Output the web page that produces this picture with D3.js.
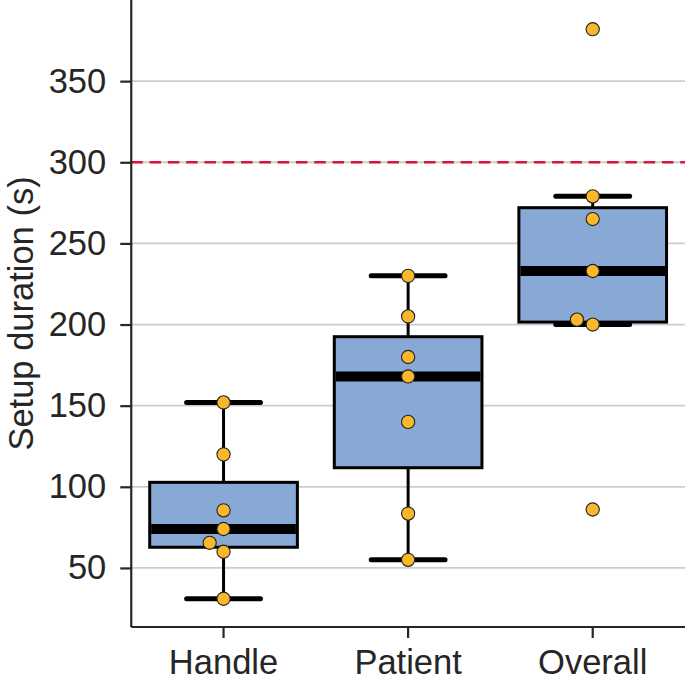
<!DOCTYPE html>
<html>
<head>
<meta charset="utf-8">
<script src="https://cdn.jsdelivr.net/npm/d3@7/dist/d3.min.js"></script>
<style>
  html, body { margin: 0; padding: 0; background: #fff; }
  svg { display: block; }
  text { font-family: "Liberation Sans", Arial, sans-serif; fill: #262626; }
</style>
</head>
<body>
<svg id="chart" width="685" height="677"></svg>
<script>
// ---- data ----
const categories = ["Handle", "Patient", "Overall"];
const handleValues = [152, 120, 85.5, 74, 65.5, 60, 31];
const patientValues = [230, 205, 180, 168, 140, 83.5, 55];
const overallValues = [382, 279, 265, 233, 203, 200, 86];
const seriesValues = [handleValues, patientValues, overallValues];
const yTicks = [50, 100, 150, 200, 250, 300, 350];
const thresholdValue = 300;
const yLabel = "Setup duration (s)";
const yDomain = [13.6, 400];

(function () {
// ---- layout ----
const plotLeft = 131.25, plotRight = 685, plotTop = 0, plotBottom = 627;
const svg = d3.select("#chart");

const x = d3.scaleBand().domain(categories).range([plotLeft, plotRight])
  .paddingInner(0.2).paddingOuter(0.1);
const y = d3.scaleLinear().domain(yDomain).range([plotBottom, plotTop]);

// grid
svg.append("g").selectAll("line").data(yTicks).join("line")
  .attr("x1", plotLeft).attr("x2", plotRight)
  .attr("y1", d => y(d)).attr("y2", d => y(d))
  .attr("stroke", "#cccccc").attr("stroke-width", 1.8);

// threshold line
svg.append("line")
  .attr("x1", plotLeft).attr("x2", plotRight)
  .attr("y1", y(thresholdValue)).attr("y2", y(thresholdValue))
  .attr("stroke", "crimson").attr("stroke-width", 2.6)
  .attr("stroke-dasharray", "11.5,6.8");

// box stats
function stats(vals) {
  const s = vals.slice().sort(d3.ascending);
  const q1 = d3.quantileSorted(s, 0.25), med = d3.quantileSorted(s, 0.5), q3 = d3.quantileSorted(s, 0.75);
  const iqr = q3 - q1;
  const lo = d3.min(s.filter(v => v >= q1 - 1.5 * iqr));
  const hi = d3.max(s.filter(v => v <= q3 + 1.5 * iqr));
  return { q1, med, q3, lo, hi };
}

const bw = x.bandwidth();
categories.forEach((cat, i) => {
  const st = stats(seriesValues[i]);
  const cx = x(cat) + bw / 2;
  const g = svg.append("g");
  // whiskers
  g.append("line").attr("x1", cx).attr("x2", cx).attr("y1", y(st.q3)).attr("y2", y(st.hi))
    .attr("stroke", "#000").attr("stroke-width", 3);
  g.append("line").attr("x1", cx).attr("x2", cx).attr("y1", y(st.q1)).attr("y2", y(st.lo))
    .attr("stroke", "#000").attr("stroke-width", 3);
  // box
  g.append("rect").attr("x", x(cat)).attr("width", bw)
    .attr("y", y(st.q3)).attr("height", y(st.q1) - y(st.q3))
    .attr("fill", "#88a9d5").attr("stroke", "#000").attr("stroke-width", 3);
  // caps
  [st.lo, st.hi].forEach(v => {
    g.append("line").attr("x1", cx - bw / 4).attr("x2", cx + bw / 4)
      .attr("y1", y(v)).attr("y2", y(v))
      .attr("stroke", "#000").attr("stroke-width", 5).attr("stroke-linecap", "round");
  });
  // median
  g.append("line").attr("x1", x(cat) + 1.5).attr("x2", x(cat) + bw - 1.5)
    .attr("y1", y(st.med)).attr("y2", y(st.med))
    .attr("stroke", "#000").attr("stroke-width", 10);
});

// swarm points
const dColl = 16.5;
categories.forEach((cat, i) => {
  const cx = x(cat) + bw / 2;
  const vals = seriesValues[i].slice().sort(d3.ascending);
  const placed = [];
  vals.forEach(v => {
    const py = y(v);
    const cands = [0];
    placed.forEach(p => {
      const dy = Math.abs(p.y - py);
      if (dy < dColl) {
        const dx = Math.sqrt(dColl * dColl - dy * dy);
        cands.push(p.o - dx, p.o + dx);
      }
    });
    cands.sort((a, b) => (Math.abs(a) - Math.abs(b)) || (a - b));
    const o = cands.find(c => placed.every(p => Math.hypot(p.o - c, p.y - py) >= dColl - 1e-6));
    placed.push({ o, y: py, v });
  });
  svg.append("g").selectAll("circle").data(placed).join("circle")
    .attr("cx", d => cx + d.o).attr("cy", d => d.y).attr("r", 6.6)
    .attr("fill", "#f9b72b").attr("stroke", "#222").attr("stroke-width", 1.1);
});

// axes
const yAxis = d3.axisLeft(y).tickValues(yTicks).tickSize(11).tickPadding(14).tickSizeOuter(0);
const gy = svg.append("g").attr("transform", `translate(${plotLeft},0)`).call(yAxis);
const xAxis = d3.axisBottom(x).tickSize(11).tickPadding(12).tickSizeOuter(0);
const gx = svg.append("g").attr("transform", `translate(0,${plotBottom})`).call(xAxis);
[gy, gx].forEach(g => {
  g.select(".domain").attr("stroke", "#262626").attr("stroke-width", 2.2);
  g.selectAll(".tick line").attr("stroke", "#262626").attr("stroke-width", 2.2);
  g.selectAll(".tick text").attr("font-size", 34.5).attr("fill", "#262626")
    .attr("font-family", "Liberation Sans, Arial, sans-serif");
});
gx.select(".domain").attr("d", `M${plotLeft},0H${plotRight}`);
gy.select(".domain").attr("d", `M0,${plotBottom}V${plotTop}`);

// y label
svg.append("text")
  .attr("transform", `translate(33,${(plotTop + plotBottom) / 2}) rotate(-90)`)
  .attr("text-anchor", "middle").attr("font-size", 34.5)
  .text(yLabel);
})();
</script>
</body>
</html>
